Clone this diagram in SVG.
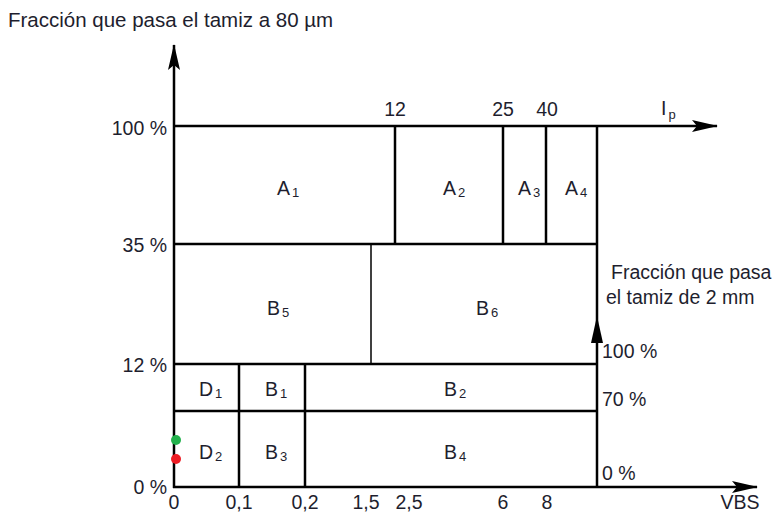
<svg xmlns="http://www.w3.org/2000/svg" width="780" height="517" viewBox="0 0 780 517">
<style>
text{font-family:"Liberation Sans",Arial,sans-serif;font-size:19.5px;fill:#1e1e2e}
.sub{font-size:13px}
.r{text-anchor:end}
.m{text-anchor:middle}
.l{stroke:#000;stroke-width:2.5;fill:none}
.t{stroke:#000;stroke-width:1.5;fill:none}
</style>
<defs>
<marker id="ah" markerWidth="26" markerHeight="12" refX="25" refY="6" orient="auto" markerUnits="userSpaceOnUse">
<path d="M0,0 L26,6 L0,12 L5,6 Z" fill="#000"/>
</marker>
</defs>
<rect width="780" height="517" fill="#fff"/>
<g id="connectors">
<line class="l" x1="174" y1="488" x2="174" y2="45" marker-end="url(#ah)"/>
<line class="l" x1="173" y1="487" x2="757" y2="487" marker-end="url(#ah)"/>
<line class="l" x1="174" y1="126" x2="717" y2="126" marker-end="url(#ah)"/>
<line class="l" x1="174" y1="244" x2="597" y2="244"/>
<line class="l" x1="174" y1="364" x2="597" y2="364"/>
<line class="l" x1="174" y1="411" x2="597" y2="411"/>
<line class="l" x1="395" y1="126" x2="395" y2="244"/>
<line class="l" x1="503" y1="126" x2="503" y2="244"/>
<line class="l" x1="546" y1="126" x2="546" y2="244"/>
<line class="l" x1="597" y1="126" x2="597" y2="487"/>
<line class="t" x1="371" y1="244" x2="371" y2="364"/>
<line class="l" x1="239" y1="364" x2="239" y2="487"/>
<line class="l" x1="305" y1="364" x2="305" y2="487"/>
<path d="M597,316 L603,343 L591,343 Z" fill="#000"/>
</g>
<g id="title"><text x="8" y="27" style="font-size:20.5px">Fracción que pasa el tamiz a 80 µm</text></g>
<g id="yaxis">
<text class="r" x="167" y="134.5">100 %</text>
<text class="r" x="167" y="252">35 %</text>
<text class="r" x="167" y="372">12 %</text>
<text class="r" x="167" y="494">0 %</text>
</g>
<g id="xaxis">
<text class="m" x="174" y="509">0</text>
<text class="m" x="239" y="509">0,1</text>
<text class="m" x="305" y="509">0,2</text>
<text class="m" x="366" y="509">1,5</text>
<text class="m" x="409" y="509">2,5</text>
<text class="m" x="503" y="509">6</text>
<text class="m" x="547" y="509">8</text>
<text class="m" x="740" y="509">VBS</text>
</g>
<g id="ipaxis">
<text class="m" x="395" y="115.5">12</text>
<text class="m" x="503" y="115.5">25</text>
<text class="m" x="547" y="115.5">40</text>
<text x="661" y="115">I<tspan class="sub" dx="2" dy="4">p</tspan></text>
</g>
<g id="rightaxis">
<text x="611" y="279">Fracción que pasa</text>
<text x="606" y="304">el tamiz de 2 mm</text>
<text x="602" y="358">100 %</text>
<text x="602" y="406">70 %</text>
<text x="602" y="480">0 %</text>
</g>
<g id="A1"><text x="277" y="195">A<tspan class="sub" dx="2" dy="2">1</tspan></text></g>
<g id="A2"><text x="443" y="195">A<tspan class="sub" dx="2" dy="2">2</tspan></text></g>
<g id="A3"><text x="518" y="195">A<tspan class="sub" dx="2" dy="2">3</tspan></text></g>
<g id="A4"><text x="565" y="195">A<tspan class="sub" dx="2" dy="2">4</tspan></text></g>
<g id="B5"><text x="267" y="315">B<tspan class="sub" dx="2" dy="2">5</tspan></text></g>
<g id="B6"><text x="476" y="315">B<tspan class="sub" dx="2" dy="2">6</tspan></text></g>
<g id="D1"><text x="199" y="396">D<tspan class="sub" dx="2" dy="2">1</tspan></text></g>
<g id="B1"><text x="265" y="396">B<tspan class="sub" dx="2" dy="2">1</tspan></text></g>
<g id="B2"><text x="444" y="396">B<tspan class="sub" dx="2" dy="2">2</tspan></text></g>
<g id="D2"><text x="199" y="459">D<tspan class="sub" dx="2" dy="2">2</tspan></text></g>
<g id="B3"><text x="265" y="459">B<tspan class="sub" dx="2" dy="2">3</tspan></text></g>
<g id="B4"><text x="444" y="459">B<tspan class="sub" dx="2" dy="2">4</tspan></text></g>
<g id="dots">
<circle cx="176" cy="440" r="5" fill="#22b14c"/>
<circle cx="176" cy="459" r="5" fill="#ed1c24"/>
</g>
</svg>
